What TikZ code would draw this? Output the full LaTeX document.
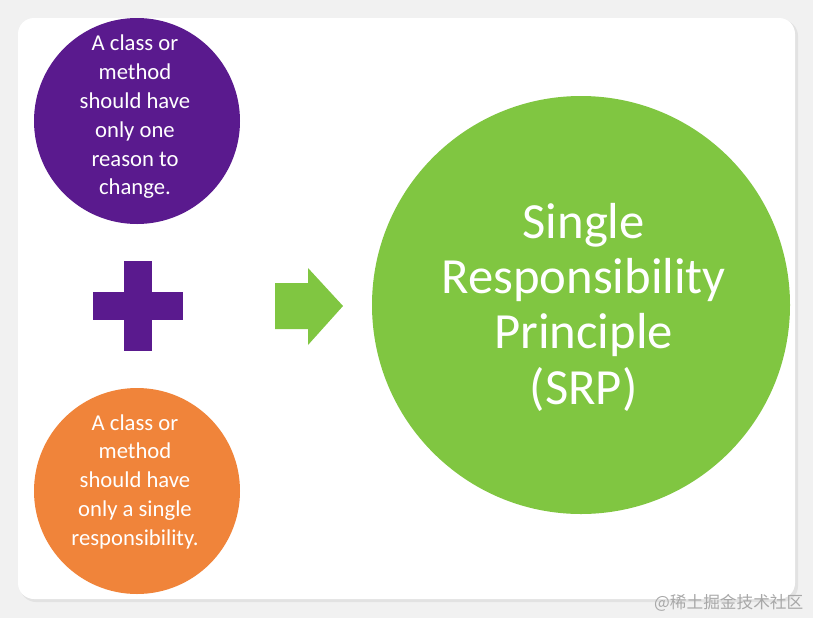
\documentclass[tikz,border=0pt]{standalone}
\usepackage{fontspec}
\setmainfont{Carlito}
\newfontfamily\cjkfont{Noto Sans CJK SC}
\definecolor{Purplecol}{HTML}{5A1A8E}
\definecolor{Orangecol}{HTML}{F0843A}
\definecolor{Greencol}{HTML}{80C641}
\definecolor{Backcol}{HTML}{F1F1F1}
\definecolor{Shadecol}{HTML}{E2E2E2}
\definecolor{Markcol}{HTML}{A8A8A8}
\usetikzlibrary{positioning}
\tikzset{
    smallball/.style={circle, minimum size=154.5pt, inner sep=0pt},
    smalltext/.style={align=center, text=white, inner sep=0pt,
        font=\fontsize{17}{21.6}\selectfont},
    bigball/.style={circle, fill=Greencol, minimum size=313.5pt, inner sep=0pt,
        align=center, text=white, font=\fontsize{38}{41.5}\selectfont}
}

\begin{document}
\begin{tikzpicture}[x=0.75pt, y=-0.75pt]
    % Background and card
    \fill[Backcol] (0,0) rectangle (813,618);
    \useasboundingbox (0,0) rectangle (813,618);
    \fill[Shadecol, rounded corners=12] (20,20) rectangle (798,602);
    \fill[white, rounded corners=12] (18,18) rectangle (795,599);

    % Left circles
    \node[smallball, fill=Purplecol] (change) at (137,121) {};
    \node[smalltext] (changetext) at ([xshift=-1.5pt, yshift=3pt]change.center)
        {A class or\\method\\should have\\only one\\reason to\\change.};
    \node[smallball, fill=Orangecol] (resp) at (137,491) {};
    \node[smalltext] (resptext) at ([xshift=-1.5pt, yshift=7pt]resp.center)
        {A class or\\method\\should have\\only a single\\responsibility.};

    % Plus sign
    \fill[Purplecol] (124,261) rectangle (152,351);
    \fill[Purplecol] (93,292) rectangle (183,320);

    % Arrow
    \fill[Greencol] (275,283) -- (308,283) -- (308,268) -- (343,306)
        -- (308,345) -- (308,329) -- (275,329) -- cycle;

    % Result circle
    \node[bigball] (srp) at (581,305) {};
    \node[bigball, fill=none, minimum size=0pt] (srptext)
        at ([xshift=2pt, yshift=-1.5pt]srp.center)
        {Single\\Responsibility\\Principle\\(SRP)};

    % Watermark
    \node[Markcol, font=\cjkfont\fontsize{12.5}{14}\selectfont, anchor=east] (mark)
        at (808,603) {@稀土掘金技术社区};
\end{tikzpicture}
\end{document}
